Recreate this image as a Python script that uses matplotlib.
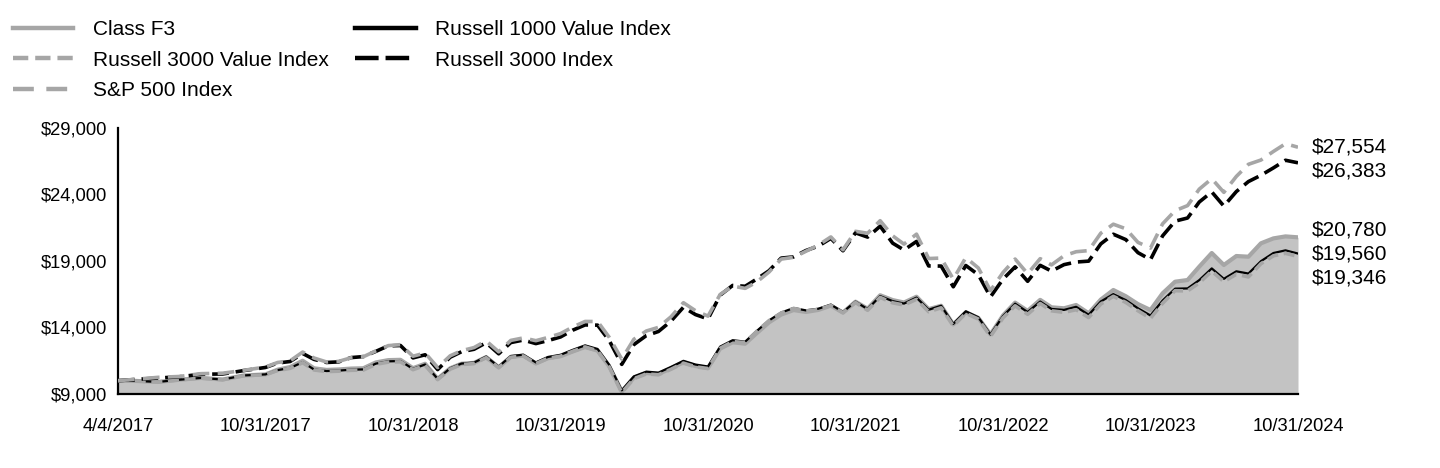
import numpy as np
import pandas as pd
import matplotlib
matplotlib.use("Agg")
import matplotlib.pyplot as plt
from matplotlib.lines import Line2D

plt.rcParams["font.family"] = ["Liberation Sans", "DejaVu Sans"]
plt.rcParams["lines.scale_dashes"] = False

# ---------------- data ----------------
start_date = "2017-04-04"
end_date = "2024-10-31"
tick_dates = ["2017-04-04", "2017-10-31", "2018-10-31", "2019-10-31", "2020-10-31",
              "2021-10-31", "2022-10-31", "2023-10-31", "2024-10-31"]
tick_labels = ["4/4/2017", "10/31/2017", "10/31/2018", "10/31/2019", "10/31/2020",
               "10/31/2021", "10/31/2022", "10/31/2023", "10/31/2024"]

class_f3 = [10000, 9982, 9908, 10072, 10209, 10091, 10395, 10475, 10829, 11028,
            11502, 10933, 10812, 10846, 10913, 10936, 11374, 11548, 11571, 10942, 11274, 10143,
            10935, 11277, 11340, 11777, 11013, 11795, 11883, 11296, 11690, 11840, 12193, 12530,
            12263, 11079, 9187, 10223, 10575, 10501, 10925, 11380, 11102, 10958, 12411, 12888,
            12782, 13557, 14387, 14971, 15312, 15167, 15321, 15643, 15123, 15942, 15416, 16425,
            16062, 15879, 16314, 15382, 15637, 14230, 15143, 14722, 13476, 14905, 15870, 15250,
            16079, 15518, 15445, 15692, 15068, 16100, 16820, 16350, 15760, 15316, 16570, 17444,
            17571, 18573, 19600, 18700, 19375, 19323, 20330, 20700, 20850, 20780]

russell_1000_value = [10000, 9982, 9908, 10072, 10209, 10091, 10395, 10475, 10797, 10962,
                      11388, 10846, 10726, 10760, 10826, 10849, 11284, 11456, 11479, 10888, 11218, 10143,
                      10935, 11288, 11363, 11812, 11057, 11854, 11955, 11376, 11784, 11948, 12316, 12657,
                      12387, 11191, 9280, 10326, 10682, 10607, 11035, 11495, 11214, 11069, 12562, 13045,
                      12937, 13722, 14532, 15122, 15467, 15289, 15413, 15722, 15169, 15942, 15385, 16360,
                      15982, 15800, 16249, 15336, 15637, 14273, 15219, 14766, 13476, 14860, 15791, 15159,
                      15951, 15395, 15322, 15555, 14956, 15953, 16509, 16061, 15445, 14902, 16029, 16920,
                      16937, 17562, 18443, 17659, 18225, 18056, 18985, 19600, 19800, 19560]

russell_3000_value = [10000, 9979, 9901, 10062, 10196, 10074, 10374, 10451, 10768, 10929,
                      11352, 10808, 10686, 10717, 10781, 10800, 11231, 11399, 11419, 10828, 11154, 10082,
                      10867, 11215, 11287, 11729, 10977, 11765, 11863, 11285, 11687, 11846, 12209, 12543,
                      12251, 11034, 9104, 10150, 10511, 10448, 10858, 11323, 11046, 10914, 12436, 12941,
                      12872, 13695, 14517, 15092, 15436, 15243, 15351, 15659, 15108, 15878, 15293, 16262,
                      15854, 15689, 16119, 15183, 15481, 14116, 15067, 14633, 13328, 14726, 15633, 14992,
                      15807, 15256, 15138, 15337, 14747, 15762, 16344, 15884, 15260, 14693, 15821, 16768,
                      16751, 17351, 18240, 17447, 18006, 17803, 18795, 19390, 19577, 19346]

russell_3000 = [10000, 10100, 10201, 10293, 10485, 10505, 10761, 10996, 11329, 11444,
                12047, 11603, 11370, 11414, 11737, 11813, 12204, 12623, 12645, 11714, 11949, 10836,
                11766, 12178, 12363, 12855, 12023, 12867, 13056, 12790, 13015, 13288, 13794, 14193,
                14177, 13016, 11226, 12713, 13393, 13700, 14475, 15523, 14970, 14645, 16428, 17162,
                17100, 17632, 18268, 19217, 19309, 19784, 20118, 20700, 19770, 21118, 20797, 21616,
                20341, 19828, 20471, 18628, 18619, 17061, 18661, 17965, 16300, 17637, 18561, 17473,
                18675, 18240, 18727, 18922, 18990, 20287, 21013, 20608, 19627, 19106, 20890, 21998,
                22233, 23436, 24193, 23129, 24221, 24972, 25444, 26001, 26574, 26383]

sp500 = [10000, 10110, 10253, 10316, 10529, 10562, 10779, 11030, 11369, 11495,
         12154, 11706, 11408, 11452, 11728, 11800, 12239, 12638, 12710, 11841, 12083, 10992,
         11872, 12253, 12491, 12997, 12172, 13030, 13218, 13009, 13252, 13540, 14031, 14455,
         14449, 13260, 11623, 13113, 13737, 14010, 14800, 15864, 15261, 14855, 16482, 17115,
         16942, 17410, 18172, 19143, 19277, 19726, 20196, 20810, 19842, 21233, 21086, 22031,
         20892, 20267, 21019, 19186, 19221, 17635, 19261, 18475, 16773, 18132, 19146, 18043,
         19176, 18708, 19395, 19697, 19782, 21090, 21767, 21421, 20399, 19971, 21794, 22783,
         23166, 24403, 25189, 24161, 25359, 26270, 26591, 27237, 27820, 27554]

# ---------------- styles ----------------
GRAY = "#a6a6a6"
AREA = "#c3c3c3"

dates = pd.DatetimeIndex([pd.Timestamp(start_date)]).append(
    pd.date_range("2017-04-30", end_date, freq=pd.offsets.MonthEnd()))
tdates = pd.to_datetime(tick_dates)
# each labelled period gets equal width on the axis
x = np.interp(dates.values.astype("int64").astype(float),
              tdates.values.astype("int64").astype(float),
              np.arange(len(tdates), dtype=float))

fig = plt.figure(figsize=(14.4, 4.68), dpi=100)
ax = fig.add_axes([118 / 1440, 1 - 394 / 468, (1298 - 118) / 1440, (394 - 128) / 468])

ymin, ymax = 9000, 29000
ax.fill_between(x, ymin, class_f3, color=AREA, lw=0, zorder=1)
ax.plot(x, class_f3, color=GRAY, lw=3, solid_joinstyle="round", zorder=2)
ax.plot(x, russell_1000_value, color="black", lw=1.6, zorder=3)
ax.plot(x, russell_3000_value, color=GRAY, lw=2.6, dashes=(8, 4), zorder=4)
ax.plot(x, russell_3000, color="black", lw=2.6, dashes=(12, 5), zorder=5)
ax.plot(x, sp500, color=GRAY, lw=2.6, dashes=(12, 6), zorder=6)

ax.set_xlim(0, len(tdates) - 1)
ax.set_ylim(ymin, ymax)
ax.set_xticks(np.arange(len(tdates)))
ax.set_xticklabels(tick_labels)
ax.set_yticks(np.arange(ymin, ymax + 1, 5000))
ax.yaxis.set_major_formatter(plt.FuncFormatter(lambda v, p: f"${v:,.0f}"))
ax.tick_params(axis="both", length=0, labelsize=13.2, colors="black")
ax.tick_params(axis="y", pad=8)
ax.tick_params(axis="x", pad=17)
for s in ["top", "right"]:
    ax.spines[s].set_visible(False)
for s in ["left", "bottom"]:
    ax.spines[s].set_color("black")
    ax.spines[s].set_linewidth(1.6)
ax.spines["bottom"].set_zorder(10)

# ---------------- end labels (spread to avoid overlap) ----------------
ends = [sp500[-1], russell_3000[-1], class_f3[-1], russell_1000_value[-1], russell_3000_value[-1]]
gap = 24 * (ymax - ymin) / 266.0
vals = sorted(ends, reverse=True)
clusters = [[v] for v in vals]


def place(c):
    a = (len(c) - 1) // 2
    return [c[a] + (a - i) * gap for i in range(len(c))]


merged = True
while merged:
    merged = False
    for i in range(len(clusters) - 1):
        p1 = place(clusters[i])
        p2 = place(clusters[i + 1])
        if p1[-1] - p2[0] < gap - 1e-9:
            clusters[i] = clusters[i] + clusters[i + 1]
            del clusters[i + 1]
            merged = True
            break

for c in clusters:
    for v, p in zip(c, place(c)):
        ax.annotate(f"${v:,.0f}", xy=(x[-1], p), xytext=(10, 0), textcoords="offset points",
                    va="center", ha="left", fontsize=15, annotation_clip=False)

# ---------------- legend ----------------
handles = [
    Line2D([], [], color=GRAY, lw=3.2, label="Class F3"),
    Line2D([], [], color=GRAY, lw=3.2, dashes=(11, 5), label="Russell 3000 Value Index"),
    Line2D([], [], color=GRAY, lw=3.2, dashes=(15, 9), label="S&P 500 Index"),
    Line2D([], [], color="black", lw=3.2, label="Russell 1000 Value Index"),
    Line2D([], [], color="black", lw=3.2, dashes=(17, 5), label="Russell 3000 Index"),
]
fig.legend(handles=handles, loc="upper left", bbox_to_anchor=(13 / 1440, 1 - 20 / 468),
           ncol=2, frameon=False, fontsize=15, handlelength=2.9, handletextpad=0.95,
           columnspacing=1.25, labelspacing=0.56, borderpad=0, borderaxespad=0)

fig.savefig("out.png", dpi=100, facecolor="white")
